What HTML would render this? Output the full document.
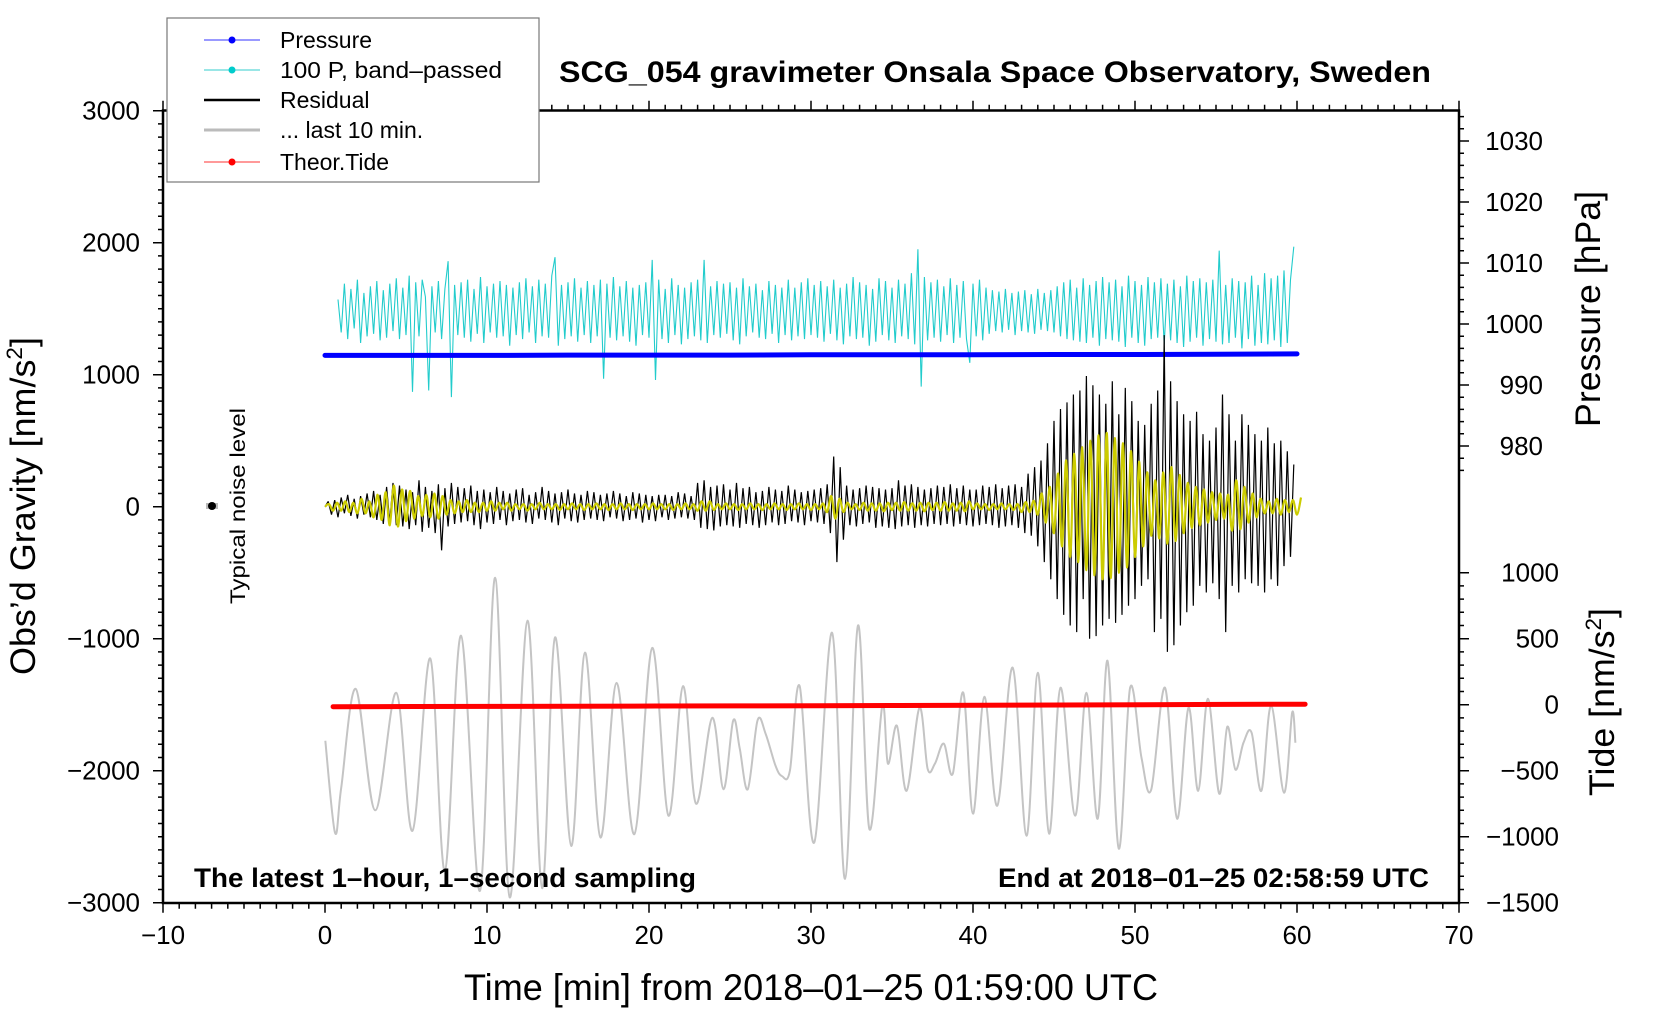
<!DOCTYPE html>
<html><head><meta charset="utf-8"><title>SCG_054 gravimeter</title>
<style>
html,body{margin:0;padding:0;background:#fff;}
svg{display:block;font-family:"Liberation Sans",sans-serif;}
</style></head>
<body>
<svg id="chart" width="1660" height="1020" viewBox="0 0 1660 1020" xmlns="http://www.w3.org/2000/svg">
<rect width="1660" height="1020" fill="#fff"/>
<g id="ticks"></g>
<g id="series"></g>
<rect x="163" y="110.5" width="1296" height="792.5" fill="none" stroke="#000" stroke-width="2.5"/>
<text x="995" y="82" font-size="30" font-weight="bold" text-anchor="middle" textLength="872" lengthAdjust="spacingAndGlyphs">SCG_054 gravimeter Onsala Space Observatory, Sweden</text>
<text x="194" y="887" font-size="27" font-weight="bold" textLength="502" lengthAdjust="spacingAndGlyphs">The latest 1–hour, 1–second sampling</text>
<text x="1429" y="887" font-size="27" font-weight="bold" text-anchor="end" textLength="431" lengthAdjust="spacingAndGlyphs">End at 2018–01–25 02:58:59 UTC</text>
<text x="811" y="1000" font-size="37" text-anchor="middle" textLength="694" lengthAdjust="spacingAndGlyphs">Time [min] from 2018–01–25 01:59:00 UTC</text>
<text transform="translate(35,506) rotate(-90)" font-size="35" text-anchor="middle" textLength="338" lengthAdjust="spacingAndGlyphs">Obs’d Gravity [nm/s<tspan font-size="22" dy="-13">2</tspan><tspan dy="13">]</tspan></text>
<text transform="translate(1600,309) rotate(-90)" font-size="35" text-anchor="middle" textLength="236" lengthAdjust="spacingAndGlyphs">Pressure [hPa]</text>
<text transform="translate(1614,702) rotate(-90)" font-size="35" text-anchor="middle" textLength="188" lengthAdjust="spacingAndGlyphs">Tide [nm/s<tspan font-size="22" dy="-13">2</tspan><tspan dy="13">]</tspan></text>
<text transform="translate(245,506) rotate(-90)" font-size="21" text-anchor="middle" textLength="196" lengthAdjust="spacingAndGlyphs">Typical noise level</text>
<g>
<rect x="206" y="503" width="12" height="6" fill="#bbb"/>
<circle cx="212" cy="506" r="4" fill="#000"/>
</g>
<g>
<rect x="167" y="18" width="372" height="164" fill="#fff" stroke="#777" stroke-width="1.2"/>
<g><line x1="204" y1="40" x2="260" y2="40" stroke="#3333ff" stroke-width="1"/><circle cx="232" cy="40" r="3.5" fill="#0000ff"/><text x="280" y="48" font-size="23">Pressure</text></g>
<g><line x1="204" y1="70" x2="260" y2="70" stroke="#33cccc" stroke-width="1"/><circle cx="232" cy="70" r="3.5" fill="#00cccc"/><text x="280" y="78" font-size="23" textLength="222" lengthAdjust="spacingAndGlyphs">100 P, band–passed</text></g>
<g><line x1="204" y1="100" x2="260" y2="100" stroke="#000" stroke-width="2.5"/><text x="280" y="108" font-size="23">Residual</text></g>
<g><line x1="204" y1="130" x2="260" y2="130" stroke="#bbb" stroke-width="3"/><text x="280" y="138" font-size="23">... last 10 min.</text></g>
<g><line x1="204" y1="162" x2="260" y2="162" stroke="#ff3333" stroke-width="1"/><circle cx="232" cy="162" r="3.5" fill="#ff0000"/><text x="280" y="170" font-size="23">Theor.Tide</text></g>
</g>
</svg>
<script>
// ---------- data ----------
var xTickLabels = [-10, 0, 10, 20, 30, 40, 50, 60, 70];
var gravityTickLabels = [3000, 2000, 1000, 0, -1000, -2000, -3000];
var pressureTickLabels = [980, 990, 1000, 1010, 1020, 1030];
var tideTickLabels = [1000, 500, 0, -500, -1000, -1500];

// Pressure (hPa) every 5 min
var pressureTimes = [0, 5, 10, 15, 20, 25, 30, 35, 40, 45, 50, 55, 60];
var pressureVals = [994.85, 994.85, 994.85, 994.9, 994.9, 994.9, 994.95, 994.95, 994.95, 995.0, 995.0, 995.05, 995.1];

// Theoretical tide (nm/s2) every 5 min
var tideTimes = [0.5, 5.5, 10.5, 15.5, 20.5, 25.5, 30.5, 35.5, 40.5, 45.5, 50.5, 55.5, 60.5];
var tideVals = [-15, -14, -13, -12, -10, -9, -8, -6, -4, -2, 0, 2, 4];

// 100 P band-passed: deviations from the plotted offset, every 0.2 min from t=0.8
var cyanStart = 0.8, cyanStep = 0.2, cyanOffset = 1470;
var cyanVals = [
100,-150,220,-200,180,-120,250,-230,150,-180,
200,-160,240,-210,170,-190,220,-140,260,-200,
190,-170,280,-600,230,-180,250,120,-590,200,
-150,240,-200,180,390,-640,210,-170,230,-190,
250,-220,180,-160,270,-230,200,-150,220,-190,
240,-180,210,-250,190,-170,230,-200,260,-150,
200,-230,250,-180,220,-190,280,420,-250,210,
-200,230,-180,260,-220,190,-170,240,-230,210,
-180,250,-500,220,-190,270,-210,200,-180,240,
-220,190,-250,210,-170,230,-190,400,-510,250,
-200,180,-230,260,-170,210,-240,190,-200,230,
-180,250,-210,400,-230,200,-170,240,-190,220,
-160,230,-210,190,-240,260,-180,200,-150,220,
-190,170,-200,240,-160,210,-230,190,-170,250,
-210,190,-180,230,-200,260,-170,210,-190,240,
-220,200,-160,250,-210,190,-240,220,-180,270,
-200,230,-190,210,-250,180,-220,260,-170,240,
-210,190,-230,250,-180,220,-200,300,-240,480,
-560,270,-210,230,-190,250,-220,200,-170,260,
-230,210,-190,240,-200,-380,220,-180,250,-210,
190,-160,170,-140,160,-150,180,-130,150,-170,
160,-140,170,-150,140,-160,180,-130,150,-140,
170,-150,200,-180,230,-200,250,-210,190,-220,
260,-230,210,-190,240,-250,270,-200,230,-210,
250,-220,200,-260,280,-190,240,-230,210,-250,
270,-200,230,-190,260,-240,220,-210,250,-230,
200,-260,280,-220,240,-190,260,-250,230,-200,
250,-220,470,-240,210,-230,260,-190,240,-270,
230,-200,280,-250,210,-230,300,-240,260,-210,
280,-260,320,-230,250,500];

// Residual (nm/s2), every 0.2 min from t=0
var residStep = 0.2;
var residVals = [
0,40,-60,50,-80, 70,-50,90,-70,60, -90,80,-60,100,-80, 120,-100,90,-130,150,
-120,180,-140,160,-150, 130,-170,110,-140,200, -190,150,-160,120,-200, 170,-330,140,-150,180,
-130,150,-120,140,-110, 160,-140,120,-170,130, -120,110,-130,150,-100, 120,-140,100,-110,130,
-100,140,-120,90,-130, 110,-90,150,-100,120, -120,100,-140,110,-90, 130,-110,100,-120,90,
-100,120,-90,110,-100, 90,-110,100,-80,120, -90,100,-110,80,-100, 110,-90,100,-120,90,
-100,80,-110,90,-80, 90,-100,80,-90,110, -80,100,-90,80,-100, 180,-160,200,-170,150,
-180,160,-150,170,-140, 130,-150,180,-160,140, -130,150,-140,110,-160, 120,-140,150,-120,130,
-140,120,-130,160,-110, 130,-120,110,-140,120, -110,130,-120,140,-130, 170,-200,380,-420,300,
-250,160,-140,130,-150, 140,-130,160,-120,150, -160,140,-150,130,-160, 140,-170,200,-150,160,
-140,170,-160,150,-140, 130,-150,140,-130,160, -140,150,-130,170,-150, 140,-130,160,-140,130,
-150,130,-140,160,-130, 150,-140,170,-160,140, -150,160,-140,170,-160, 150,-200,250,-220,300,
-300,350,-420,480,-550, 650,-700,740,-820,790, -900,850,-950,880,-700, 990,-1000,920,-980,850,
-900,780,-850,950,-880, 700,-820,900,-750,800, -700,650,-600,620,-550, 780,-950,880,-850,1300,
-1100,950,-1050,800,-900, 700,-800,650,-750,720, -600,550,-650,500,-580, 600,-700,850,-950,700,
-600,500,-650,700,-550, 620,-580,550,-600,500, -650,600,-550,480,-600, 500,-450,420,-380,320];

// Residual, last 10 min (yellow), every 0.25 min from t=0
var yellowStep = 0.25;
var yellowVals = [
0,20,-30,30, -30,40,-40,30, -50,60,-50,40, -80,90,-100,110, -140,160,-150,130,
-110,120,-90,80, -70,90,-80,100, -90,80,-60,50, -50,40,-40,50, -40,30,-40,30,
-30,40,-30,30, -20,30,-30,20, -20,20,-30,20, -20,30,-20,20, -20,20,-25,20,
-20,25,-20,20, -25,20,-20,25, -20,20,-25,20, -20,25,-20,20, -25,20,-20,20,
-20,25,-20,20, -20,20,-25,20, -20,25,-20,20, -30,40,-30,40, -25,20,-20,25,
-20,20,-25,20, -20,25,-20,20, -25,20,-20,25, -20,20,-25,20, -20,25,-20,20,
-25,20,-20,25, -40,80,-90,60, -40,30,-20,20, -25,30,-30,25, -30,25,-35,30,
-25,30,-30,35, -30,25,-30,30, -35,30,-25,30, -30,35,-30,25, -30,30,-35,40,
-20,25,-20,20, -25,20,-20,25, -20,20,-25,20,
-40,35,-40,45, -60,100,-120,150, -200,250,-300,350, -380,400,-420,450, -480,500,-520,540,
-550,560,-540,520, -500,480,-460,420, -380,340,-300,260, -220,200,-240,260, -280,300,-260,240,
-200,180,-160,150, -140,130,-120,110, -100,100,-90,90, -180,200,-170,150, -120,100,-80,60,
-50,40,-50,60, -60,50,-40,50, -60,70];

// Last 10 min (gray) extrema: times (min) and values (nm/s2)
var grayTimes = [0.02,0.62,1.0,1.9,3.1,4.4,5.4,6.5,7.4,8.4,9.57,10.5,11.4,12.5,13.4,14.2,15.2,16.05,17.0,18.0,19.1,20.2,21.2,22.1,22.9,23.9,24.6,25.2,25.6,26.1,26.7,27.2,27.8,28.2,28.7,29.3,30.2,31.3,32.1,32.9,33.6,34.4,34.75,35.3,35.9,36.7,37.2,37.65,38.2,38.75,39.4,40.0,40.7,41.5,42.45,43.3,44.0,44.7,45.4,46.3,47.0,47.7,48.3,49.0,49.7,50.4,51.0,51.85,52.6,53.3,53.9,54.5,55.2,55.7,56.2,56.7,57.2,57.8,58.4,59.2,59.7,59.9];
var grayVals = [-1773,-2470,-2130,-1380,-2300,-1410,-2455,-1150,-2760,-977,-2910,-538,-2960,-864,-2890,-990,-2570,-1105,-2505,-1335,-2480,-1070,-2340,-1360,-2250,-1600,-2140,-1620,-1830,-2140,-1620,-1720,-1960,-2040,-2000,-1360,-2545,-955,-2820,-900,-2440,-1508,-1947,-1659,-2152,-1523,-1985,-1947,-1795,-2023,-1409,-2326,-1440,-2265,-1220,-2493,-1258,-2477,-1371,-2341,-1409,-2364,-1167,-2591,-1371,-1902,-2144,-1371,-2364,-1523,-2152,-1455,-2174,-1667,-1992,-1788,-1712,-2152,-1508,-2167,-1561,-1788];

// ---------- axes ----------
var X0 = 163, X1 = 1459, Y0 = 110.7, Y1 = 902.7;
function sx(t){ return X0 + (t + 10) / 80 * (X1 - X0); }
function sy(g){ return Y1 - (g + 3000) / 6000 * (Y1 - Y0); }
function sp(p){ return 141 + (1030 - p) * 6.1; }
function st(v){ return sy(v - 1500); }

var NS = "http://www.w3.org/2000/svg";
var ticks = document.getElementById("ticks");
var series = document.getElementById("series");
function mk(tag, attrs, parent){
  var e = document.createElementNS(NS, tag);
  for (var k in attrs) e.setAttribute(k, attrs[k]);
  parent.appendChild(e);
  return e;
}
var tp = "";
for (var m = -10; m <= 70; m++){
  var x = sx(m), major = (m % 10 === 0);
  var L = major ? 10 : 6;
  tp += "M" + x + " " + Y1 + "v" + L + "M" + x + " " + Y0 + "v" + (-L);
}
for (var g = -3000; g <= 3000; g += 100){
  var y = sy(g), L2 = (g % 1000 === 0) ? 10 : 5;
  tp += "M" + X0 + " " + y + "h" + (-L2);
}
for (var p = 976; p <= 1034; p += 2){
  var yp = sp(p); if (yp < Y0) continue;
  tp += "M" + X1 + " " + yp + "h" + ((p % 10 === 0) ? 10 : 5);
}
for (var tv = -1500; tv <= 1000; tv += 100){
  tp += "M" + X1 + " " + st(tv) + "h" + ((tv % 500 === 0) ? 10 : 5);
}
var tk = mk("path", {d: tp, stroke: "#000", "stroke-width": 1.5, fill: "none"}, ticks);



xTickLabels.forEach(function(v){
  var t = mk("text", {x: sx(v), y: 944, "font-size": 26, "text-anchor": "middle"}, ticks);
  
  
  t.textContent = String(v).replace("-", "\u2212");
});
gravityTickLabels.forEach(function(v){
  var t = mk("text", {x: 140, y: sy(v) + 9, "font-size": 26, "text-anchor": "end"}, ticks);
  
  
  t.textContent = String(v).replace("-", "\u2212");
});
pressureTickLabels.forEach(function(v){
  var t = mk("text", {x: 1543, y: sp(v) + 9, "font-size": 26, "text-anchor": "end"}, ticks);
  
  
  t.textContent = String(v);
});
tideTickLabels.forEach(function(v){
  var t = mk("text", {x: 1559, y: st(v) + 9, "font-size": 26, "text-anchor": "end"}, ticks);
  
  
  t.textContent = String(v).replace("-", "\u2212");
});

// ---------- series ----------
function smoothPath(pts){
  var d = "M" + pts[0][0] + " " + pts[0][1];
  for (var i = 0; i < pts.length - 1; i++){
    var p0 = pts[Math.max(i - 1, 0)], p1 = pts[i], p2 = pts[i + 1], p3 = pts[Math.min(i + 2, pts.length - 1)];
    var c1x = p1[0] + (p2[0] - p0[0]) / 6, c1y = p1[1] + (p2[1] - p0[1]) / 6;
    var c2x = p2[0] - (p3[0] - p1[0]) / 6, c2y = p2[1] - (p3[1] - p1[1]) / 6;
    d += "C" + c1x.toFixed(1) + " " + c1y.toFixed(1) + " " + c2x.toFixed(1) + " " + c2y.toFixed(1) + " " + p2[0].toFixed(1) + " " + p2[1].toFixed(1);
  }
  return d;
}
function linePath(pts){
  return pts.map(function(p, i){ return (i ? "L" : "M") + p[0].toFixed(1) + " " + p[1].toFixed(1); }).join("");
}

var gpts = grayTimes.map(function(t, i){ return [sx(t), sy(grayVals[i])]; });
var gray = mk("path", {d: smoothPath(gpts), stroke: "#c4c4c4", "stroke-width": 2, fill: "none"}, series);



var tpts = tideTimes.map(function(t, i){ return [sx(t), st(tideVals[i])]; });
var tide = mk("path", {d: linePath(tpts), stroke: "#ff0000", "stroke-width": 5, fill: "none", "stroke-linecap": "round"}, series);



var cpts = cyanVals.map(function(v, i){ return [sx(cyanStart + i * cyanStep), sy(cyanOffset + v)]; });
var cyan = mk("path", {d: linePath(cpts), stroke: "#22cccc", "stroke-width": 1.1, fill: "none", "stroke-linejoin": "bevel"}, series);



var ppts = pressureTimes.map(function(t, i){ return [sx(t), sp(pressureVals[i])]; });
var pres = mk("path", {d: linePath(ppts), stroke: "#0000ff", "stroke-width": 5, fill: "none", "stroke-linecap": "round"}, series);



var rpts = residVals.map(function(v, i){ return [sx(i * residStep), sy(v)]; });
var resid = mk("path", {d: linePath(rpts), stroke: "#000", "stroke-width": 1.2, fill: "none", "stroke-linejoin": "bevel"}, series);



var ypts = yellowVals.map(function(v, i){ return [sx(i * yellowStep), sy(v)]; });
var yel = mk("path", {d: smoothPath(ypts), stroke: "#cccc00", "stroke-width": 2.2, fill: "none"}, series);


</script>
</body></html>
